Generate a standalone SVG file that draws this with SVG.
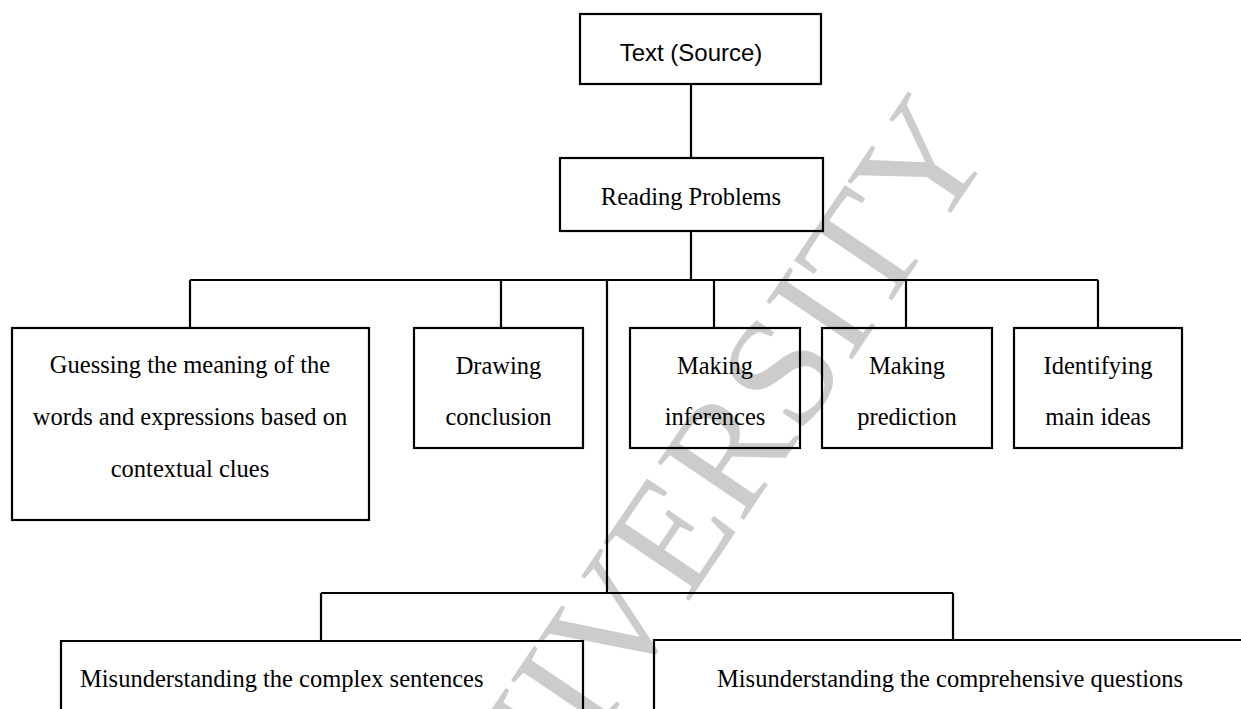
<svg xmlns="http://www.w3.org/2000/svg" width="1241" height="709" viewBox="0 0 1241 709">
<style>
.box{fill:none;stroke:#000;stroke-width:2.2}
.ln{fill:none;stroke:#000;stroke-width:2.2}
.t{font-family:"Liberation Serif","Times New Roman",serif;font-size:24.5px;fill:#000;text-anchor:middle}
.tl{text-anchor:start}
.s{font-family:"Liberation Sans",Arial,sans-serif;font-size:24px;fill:#000;text-anchor:middle}
.wm{font-family:"Liberation Serif","Times New Roman",serif;font-size:158px;fill:#cccccc}
</style>
<rect width="1241" height="709" fill="#fff"/>
<g id="watermark">
<text class="wm" transform="translate(466,932) rotate(-56)">UNIVERSITY</text>
</g>
<g id="connectors">
<path class="ln" d="M691 84V158M691 231V280M190 280H1098M190 280V328M501 280V328M714 280V328M906 280V328M1098 280V328M607 280V593M321 593H953M321 593V641M953 593V641"/>
</g>
<g id="n-source">
<rect class="box" x="580" y="14" width="241" height="70"/>
<text class="s" x="691" y="61">Text (Source)</text>
</g>
<g id="n-reading">
<rect class="box" x="560" y="158" width="263" height="73"/>
<text class="t" x="691" y="205">Reading Problems</text>
</g>
<g id="n-guessing">
<rect class="box" x="12" y="328" width="357" height="192"/>
<text class="t" x="190" y="373">Guessing the meaning of the</text>
<text class="t" x="190" y="425">words and expressions based on</text>
<text class="t" x="190" y="477">contextual clues</text>
</g>
<g id="n-drawing">
<rect class="box" x="414" y="328" width="169" height="120"/>
<text class="t" x="498.5" y="374">Drawing</text>
<text class="t" x="498.5" y="425">conclusion</text>
</g>
<g id="n-inferences">
<rect class="box" x="630" y="328" width="170" height="120"/>
<text class="t" x="715" y="374">Making</text>
<text class="t" x="715" y="425">inferences</text>
</g>
<g id="n-prediction">
<rect class="box" x="822" y="328" width="170" height="120"/>
<text class="t" x="907" y="374">Making</text>
<text class="t" x="907" y="425">prediction</text>
</g>
<g id="n-mainideas">
<rect class="box" x="1014" y="328" width="168" height="120"/>
<text class="t" x="1098" y="374">Identifying</text>
<text class="t" x="1098" y="425">main ideas</text>
</g>
<g id="n-complex">
<path class="box" d="M61 720V641H583V720"/>
<text class="t tl" x="80" y="687">Misunderstanding the complex sentences</text>
</g>
<g id="n-questions">
<path class="box" d="M654 720V640H1250"/>
<text class="t tl" x="717" y="687">Misunderstanding the comprehensive questions</text>
</g>
</svg>
